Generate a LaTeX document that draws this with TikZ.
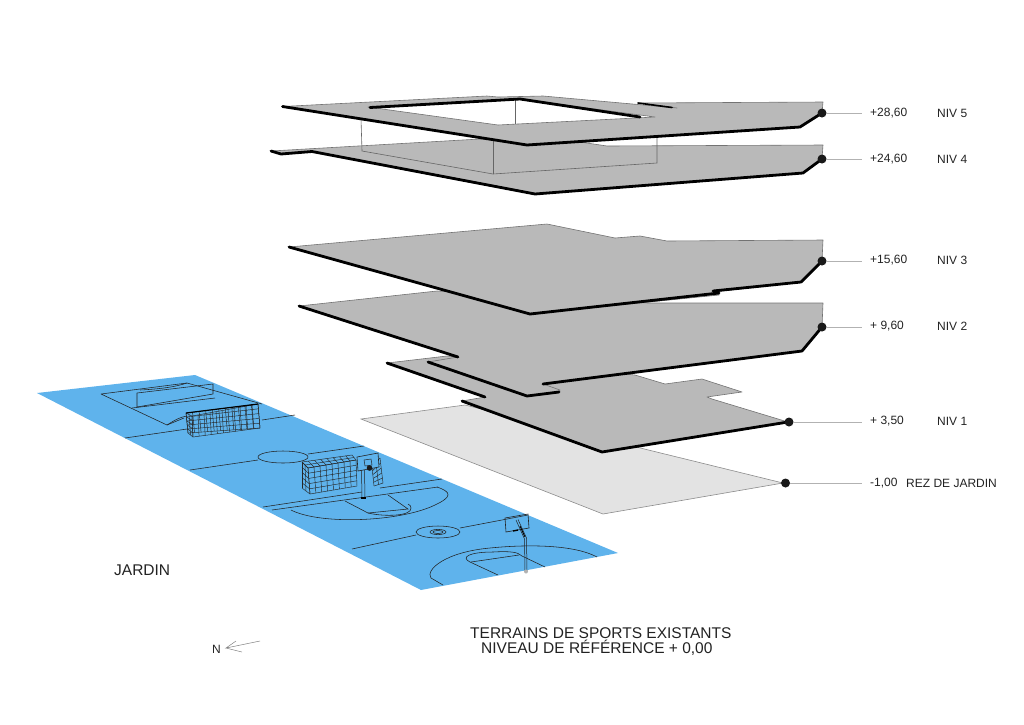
\documentclass[tikz,border=0pt]{standalone}
\usepackage{fontspec}
\setmainfont{Liberation Sans}
\usetikzlibrary{calc}
\definecolor{slab}{HTML}{B9B9B9}
\definecolor{rez}{HTML}{E3E3E3}
\definecolor{court}{HTML}{5FB3EC}
\definecolor{ink}{HTML}{222222}
\tikzset{
  slabfill/.style={fill=slab,draw=black!55,line width=.6pt,line join=round},
  frontedge/.style={draw=black,line width=2.8pt,line join=round,line cap=round},
  glass/.style={draw=black!60,line width=.6pt},
  mark line/.style={draw=ink,line width=.55pt},
  net line/.style={draw=black!85,line width=.45pt},
  pin/.style={circle,fill=black!90,inner sep=0pt,minimum size=9pt},
  leader/.style={draw=black!30,line width=.8pt},
  lab/.style={anchor=west,inner sep=0pt,font=\fontsize{12}{14}\selectfont,text=ink},
  big/.style={anchor=west,inner sep=0pt,font=\fontsize{15.5}{17}\selectfont,text=ink}
}
\newcommand{\netgrid}[6]{%
  \foreach \i in {0,...,#5}{\pgfmathsetmacro{\t}{\i/#5}
    \draw[net line] ($(#1)!\t!(#2)$) -- ($(#4)!\t!(#3)$);}
  \foreach \i in {0,...,#6}{\pgfmathsetmacro{\t}{\i/#6}
    \draw[net line] ($(#1)!\t!(#4)$) -- ($(#2)!\t!(#3)$);}
}
\begin{document}
\begin{tikzpicture}[x=1pt,y=-1pt]
\useasboundingbox (0,0) rectangle (1024,724);
% ---------- sports courts
\fill[court] (37,393) -- (195,375) -- (618,553) -- (421,590) -- cycle;
% soccer area
\draw[mark line] (101,394) -- (187,383) -- (262,404) (101,394) -- (167,425) -- (184,418);
\draw[mark line] (167,425) .. controls (175,420) and (180,417) .. (187,416);
\draw[mark line] (140,390) .. controls (160,389) and (175,387) .. (187,383);
\draw[mark line] (137,393) -- (213,384) -- (213,394) -- (137,407) -- cycle;
\draw[mark line] (132,408) -- (215,398);
\draw[mark line] (125,438) -- (187,429) (262,420) -- (295,415);
\draw[mark line] (190,470) -- (258,460) (308,454) -- (364,446);
\draw[mark line] (283,457) ellipse [x radius=25,y radius=6];
% middle basketball court
\draw[mark line] (263,507) -- (362,492) (380,488) -- (442,479);
\draw[mark line] (272,510) -- (438,487);
\draw[mark line] (291,510) .. controls (320,525) and (400,522) .. (435,505) .. controls (452,497) and (452,492) .. (437,487);
\draw[mark line] (345,501) -- (368,513) -- (408,509) -- (388,495);
\draw[mark line] (368,513) .. controls (385,517) and (412,516) .. (411,508) .. controls (411,506) and (410,505) .. (408,504);
% centre line with circle
\draw[mark line] (352,549) -- (416,535) (460,528) -- (528,515);
\draw[mark line] (438,532) ellipse [x radius=22,y radius=6];
\draw[mark line] (438,532) ellipse [x radius=8,y radius=2.6];
\draw[mark line] (438,532) ellipse [x radius=5,y radius=1.5];
% lower basketball court
\draw[mark line] (443,585) -- (431,578) .. controls (425,570) and (445,552) .. (490,548) .. controls (530,544) and (575,545) .. (597,557);
\draw[mark line] (498,575) -- (470,562) .. controls (460,557) and (470,552) .. (493,552) .. controls (510,551) and (518,552) .. (522,556) -- (545,567);
\draw[mark line] (471,562) -- (519,555);
% goal 1
\coordinate (ga) at (186,413); \coordinate (gb) at (258,404);
\coordinate (gc) at (260,428); \coordinate (gd) at (188,433);
\coordinate (ge) at (192,416); \coordinate (gf) at (193,437);
\netgrid{ga}{gb}{gc}{gd}{11}{5}
\netgrid{ga}{ge}{gf}{gd}{2}{5}
\netgrid{ge}{gb}{gc}{gf}{11}{1}
\draw[draw=black,line width=1.2pt] (ga) -- (gb);
% goal 2
\coordinate (ha) at (302,462); \coordinate (hb) at (308,468);
\coordinate (hc) at (310,494); \coordinate (hd) at (302,488);
\coordinate (he) at (356,460); \coordinate (hf) at (357,486);
\coordinate (hg) at (352,455); \coordinate (hh) at (380,458);
\coordinate (hi) at (383,483); \coordinate (hj) at (372,467);
\coordinate (hk) at (374,486);
\netgrid{ha}{hb}{hc}{hd}{2}{5}
\netgrid{hb}{he}{hf}{hc}{8}{5}
\netgrid{ha}{hg}{he}{hb}{8}{2}
\netgrid{hj}{hh}{hi}{hk}{2}{5}
% backboard 2
\filldraw[fill=court,draw=ink,line width=.6pt] (357,457) -- (378,453) -- (379,467) -- (358,471) -- cycle;
\draw[draw=ink,line width=.5pt] (364,460) -- (371,459) -- (372,465) -- (365,466) -- cycle;
\fill[black!90] (369.5,468) circle (2.8pt);
\draw[draw=ink,line width=.5pt] (361.5,470) -- (362,498) (364.5,470) -- (365,498);
\draw[draw=black,line width=1.3pt] (361,498) -- (366,498);
% backboard 3
\draw[draw=ink,line width=.6pt] (505,518) -- (528,514) -- (529,528) -- (506,532) -- cycle;
\draw[draw=black,line width=1.4pt] (513,531) -- (518,530);
\draw[draw=ink,line width=.5pt] (516,520) -- (524.5,539) -- (525,571) (518,519.5) -- (526.5,538) -- (527,571);
\draw[draw=black,line width=.9pt] (520,526) -- (525,537);
\fill[black!30] (526,571.5) circle (2pt);
% ---------- rez de jardin
\filldraw[fill=rez,draw=black!45,line width=.6pt] (361,419) -- (465,405) -- (783,483) -- (603,514) -- cycle;
% ---------- niv 1
\path[slabfill] (387,363) -- (447,356) -- (635,375) -- (665,384) -- (702,379) -- (742,392) -- (707,397) -- (712,399) -- (788,422) -- (602,452) -- (462,401) -- (485,397) -- cycle;
\draw[frontedge] (387,363) -- (485,397);
\draw[frontedge] (462,401) -- (602,452) -- (788,422);
% ---------- niv 2
\path[slabfill] (299,306) -- (437,291) -- (648,303) -- (823,303) -- (822,327) -- (802,351) -- (543,384) -- (560,390) -- (559,392) -- (527,396) -- (428,362) -- (458,357) -- cycle;
\draw[frontedge] (299,306) -- (458,357);
\draw[frontedge] (428,362) -- (527,396) -- (559,392);
\draw[frontedge] (543,384) -- (802,351) -- (822,327);
% ---------- niv 3
\path[slabfill] (289,247) -- (547,224) -- (615,238) -- (640,236) -- (667,241) -- (823,240) -- (822,261) -- (801,282) -- (713,292) -- (719,292) -- (719,295) -- (530,314) -- cycle;
\draw[frontedge] (289,247) -- (530,314) -- (719,293);
\draw[frontedge] (713,291) -- (801,282) -- (822,261);
% ---------- niv 4
\path[slabfill] (271,151) -- (480,139) -- (580,142) -- (607,146) -- (823,145) -- (822,159) -- (803,173) -- (535,194) -- (312,152) -- (281,154) -- cycle;
\draw[frontedge] (271,151) -- (281,154) -- (312,151.5) -- (535,194) -- (803,173) -- (822,159);
% glass box
\draw[glass] (361,119) -- (362,151) -- (493,174) -- (657,163) -- (657,136);
\draw[glass] (493,141) -- (493,174);
\draw[glass] (515.5,99) -- (515.5,125);
% ---------- niv 5
\path[slabfill,even odd rule] (282.5,106.5) -- (487,96) -- (498,97) -- (543,96) -- (677,108) -- (638,103) -- (823,102) -- (822,113) -- (800,127) -- (527,145) -- cycle
  (368,107) -- (520,99) -- (655,117) -- (498,125) -- cycle;
\draw[frontedge] (282.5,106.5) -- (527,145) -- (800,127) -- (822,113);
\draw[frontedge] (370,107.5) -- (520,99) -- (640,117);
\draw[frontedge,line width=1.6pt] (638,103) -- (672,107.5);
% ---------- level pins, leaders and labels
\node[pin] (p5) at (822,113) {};
\node[pin] (p4) at (822,159) {};
\node[pin] (p3) at (822,261) {};
\node[pin] (p2) at (822,327) {};
\node[pin] (p1) at (789,422) {};
\node[pin] (p0) at (785.5,483) {};
\coordinate (e5) at (862,113);
\coordinate (e4) at (862,159);
\coordinate (e3) at (862,261);
\coordinate (e2) at (862,327);
\coordinate (e1) at (862,422);
\coordinate (e0) at (862,483);
\foreach \n in {0,...,5}{\draw[leader] (p\n) -- (e\n);}
\node[lab] (a5) at (870,113) {+28,60};
\node[lab] (b5) at (937,113) {NIV 5};
\node[lab] (a4) at (870,159) {+24,60};
\node[lab] (b4) at (937,159) {NIV 4};
\node[lab] (a3) at (870,260) {+15,60};
\node[lab] (b3) at (937,260) {NIV 3};
\node[lab] (a2) at (870,326) {+ 9,60};
\node[lab] (b2) at (937,326) {NIV 2};
\node[lab] (a1) at (870,421) {+ 3,50};
\node[lab] (b1) at (937,421) {NIV 1};
\node[lab] (a0) at (870,483) {-1,00};
\node[lab] (b0) at (906,483) {REZ DE JARDIN};
\node[big] (jardin) at (114,570) {JARDIN};
\node[big] (t1) at (470,633) {TERRAINS DE SPORTS EXISTANTS};
\node[big] (t2) at (481,648) {NIVEAU DE RÉFÉRENCE + 0,00};
\node[lab] (north) at (212,649) {N};
\coordinate (nt) at (226,648);
\coordinate (nb) at (260,641);
\draw[draw=black!50,line width=.5pt] (nb) -- (nt) -- (236,641) (nt) -- (242,652);
\end{tikzpicture}
\end{document}
